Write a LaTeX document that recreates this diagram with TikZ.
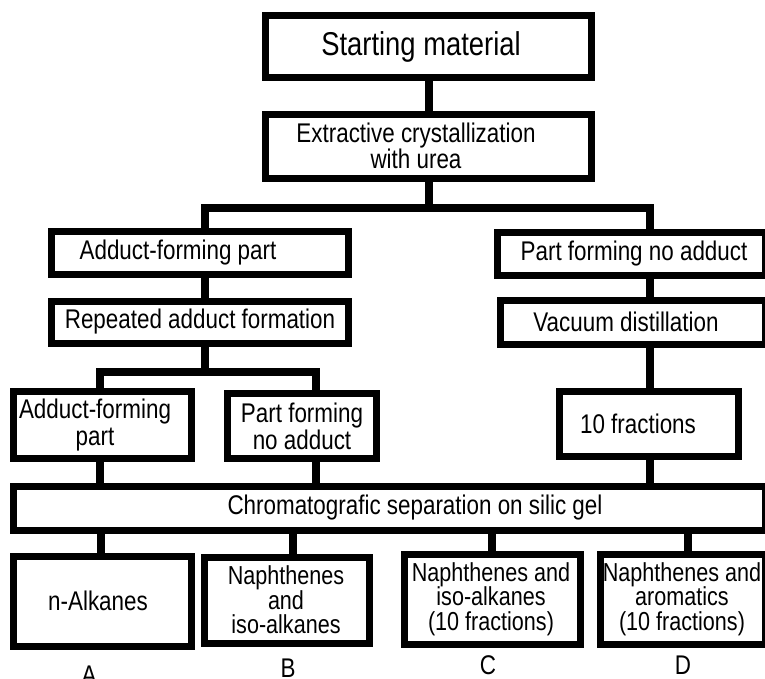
\documentclass[tikz,border=0pt]{standalone}
\usepackage{fontspec}
\setmainfont[FakeStretch=0.83]{Liberation Sans}
\begin{document}
\begin{tikzpicture}[x=1pt,y=-1pt,
  box/.style={draw, line width=7.5pt, fill=white, inner sep=0pt, rectangle},
  wire/.style={line width=7.5pt, line join=miter, line cap=butt},
  txt/.style={inner sep=0pt, align=center, font=\fontsize{27}{23.5}\selectfont},
  tri/.style={txt, font=\fontsize{26}{24.5}\selectfont},
  big/.style={inner sep=0pt, font=\fontsize{33}{36}\selectfont},
  lab/.style={inner sep=0pt, anchor=base, font=\fontsize{27}{30}\selectfont}]
\useasboundingbox (0,0) rectangle (765,679);
\fill[white] (0,0) rectangle (765,679);
\clip (0,0) rectangle (765,679);

% boxes
\node[box, minimum width=326pt, minimum height=62pt] (start) at (428.5,46.5) {};
\node[box, minimum width=326pt, minimum height=64pt] (extr) at (428.5,146.5) {};
\node[box, minimum width=297pt, minimum height=43pt] (adduct1) at (200,253) {};
\node[box, minimum width=268pt, minimum height=43pt] (noadd1) at (631.5,254) {};
\node[box, minimum width=297pt, minimum height=42pt] (repeat) at (200,322.5) {};
\node[box, minimum width=265pt, minimum height=44pt] (vacuum) at (633,322.5) {};
\node[box, minimum width=178pt, minimum height=67pt] (adduct2) at (102.5,425) {};
\node[box, minimum width=149pt, minimum height=65pt] (noadd2) at (302,426) {};
\node[box, minimum width=179pt, minimum height=65pt] (tenfr) at (649,424) {};
\node[box, minimum width=752pt, minimum height=44pt] (chrom) at (389.5,508.5) {};
\node[box, minimum width=178pt, minimum height=90pt] (nalk) at (102.5,601.5) {};
\node[box, minimum width=165pt, minimum height=86pt] (naphB) at (287,600.5) {};
\node[box, minimum width=176pt, minimum height=90pt] (naphC) at (492.5,599.5) {};
\node[box, minimum width=165pt, minimum height=90pt] (naphD) at (683,599.5) {};

% texts
\node[big] (t1) at (421,47) {Starting material};
\node[txt] (t2) at (416,146) {Extractive crystallization\\with urea};
\node[txt] (t3) at (178,253) {Adduct-forming part};
\node[txt] (t4) at (634,254) {Part forming no adduct};
\node[txt] (t5) at (200,322) {Repeated adduct formation};
\node[txt] (t6) at (626,322) {Vacuum distillation};
\node[txt, font=\fontsize{27}{27}\selectfont] (t7) at (95,425) {Adduct-forming\\part};
\node[txt, font=\fontsize{27}{27}\selectfont] (t8) at (302,426) {Part forming\\no adduct};
\node[txt] (t9) at (638,424) {10 fractions};
\node[txt] (t10) at (415,508) {Chromatografic separation on silic gel};
\node[txt] (t11) at (98,601) {n-Alkanes};
\node[tri] (t12) at (286,600) {Naphthenes\\and\\iso-alkanes};
\node[tri] (t13) at (491,599) {Naphthenes and\\iso-alkanes\\(10 fractions)};
\node[tri] (t14) at (682,599) {Naphthenes and\\aromatics\\(10 fractions)};

% labels
\node[lab] (lA) at (89,684) {A};
\node[lab] (lB) at (288,677) {B};
\node[lab] (lC) at (488,674) {C};
\node[lab] (lD) at (683,674) {D};

% junction coordinates
\coordinate (c1) at (429,208);
\coordinate (xL1) at (205,208);
\coordinate (xR1) at (650,208);
\coordinate (c2) at (205,372);
\coordinate (xL2) at (100,372);
\coordinate (xR2) at (316,372);
\coordinate (dA) at (101,540);
\coordinate (dB) at (293,540);
\coordinate (dC) at (492,540);
\coordinate (dD) at (688,540);

% connectors
\draw[wire] (start.south -| c1) -- (extr.north -| c1);
\draw[wire] (extr.south -| c1) -- (c1);
\draw[wire] (adduct1.north -| xL1) -- (xL1) -- (xR1) -- (noadd1.north -| xR1);
\draw[wire] (adduct1.south -| xL1) -- (repeat.north -| xL1);
\draw[wire] (noadd1.south -| xR1) -- (vacuum.north -| xR1);
\draw[wire] (repeat.south -| c2) -- (c2);
\draw[wire] (adduct2.north -| xL2) -- (xL2) -- (xR2) -- (noadd2.north -| xR2);
\draw[wire] (vacuum.south -| xR1) -- (tenfr.north -| xR1);
\draw[wire] (adduct2.south -| xL2) -- (chrom.north -| xL2);
\draw[wire] (noadd2.south -| xR2) -- (chrom.north -| xR2);
\draw[wire] (tenfr.south -| xR1) -- (chrom.north -| xR1);
\draw[wire] (chrom.south -| dA) -- (nalk.north -| dA);
\draw[wire] (chrom.south -| dB) -- (naphB.north -| dB);
\draw[wire] (chrom.south -| dC) -- (naphC.north -| dC);
\draw[wire] (chrom.south -| dD) -- (naphD.north -| dD);
\end{tikzpicture}
\end{document}
